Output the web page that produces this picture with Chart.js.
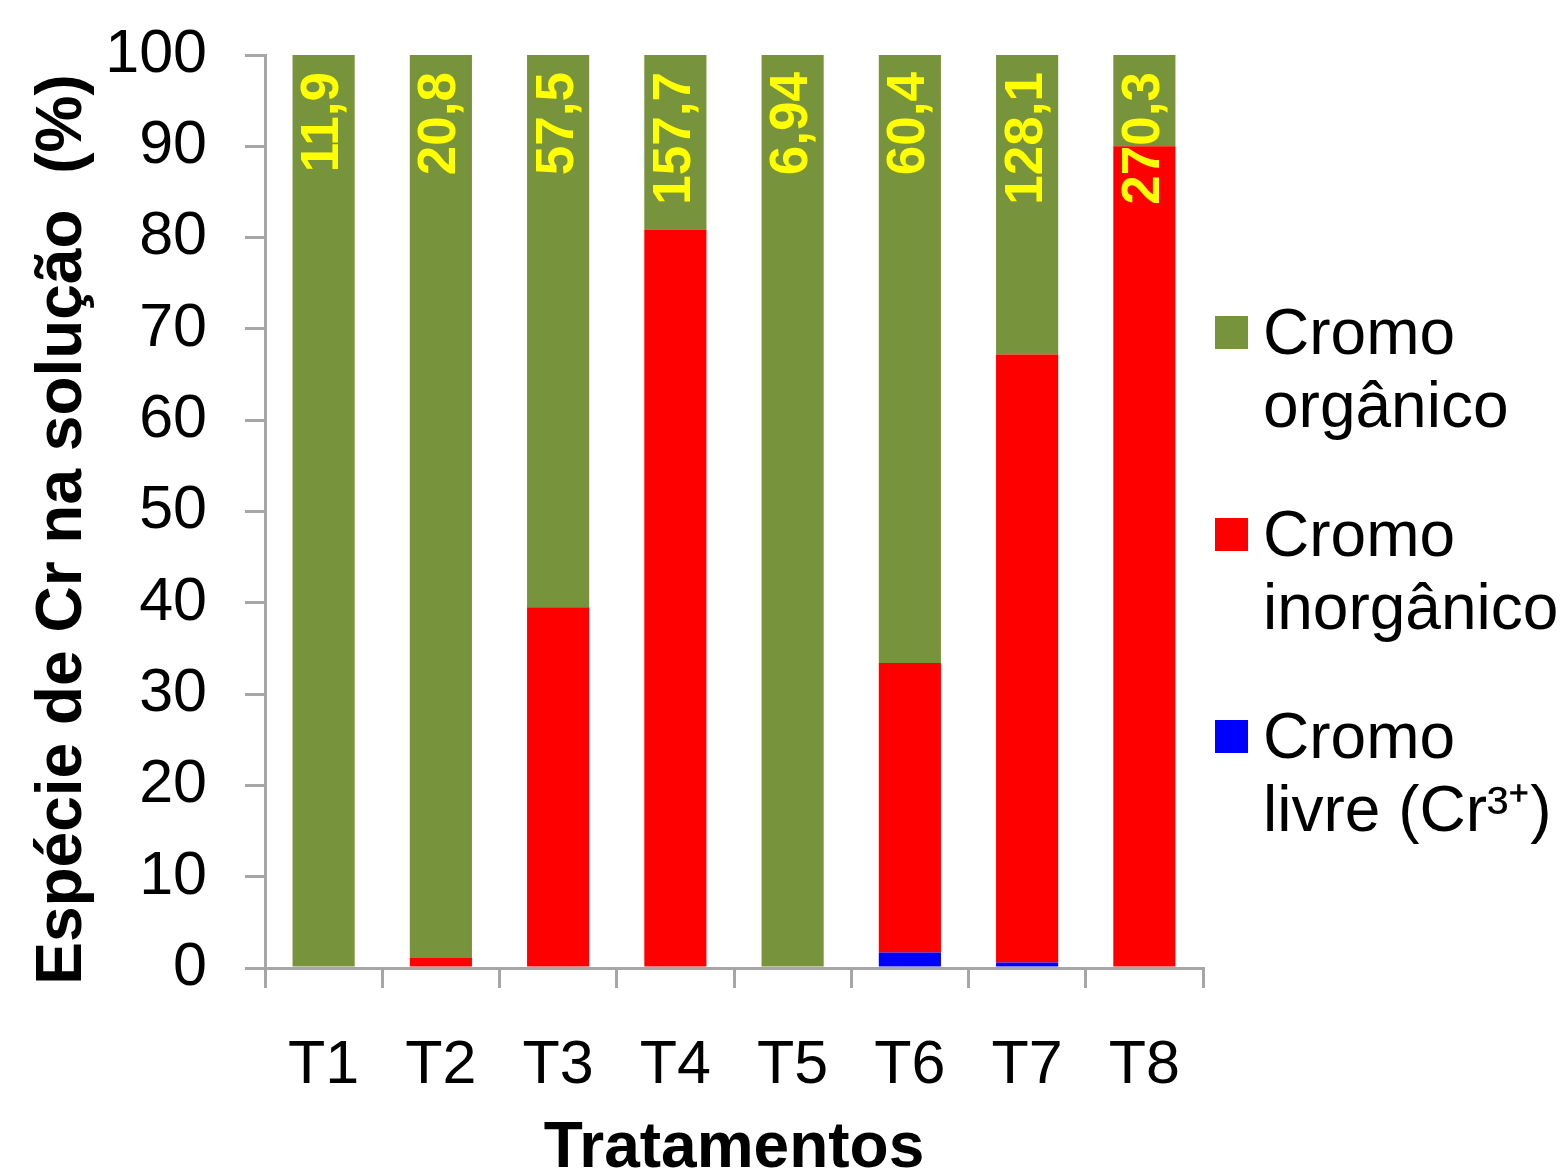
<!DOCTYPE html>
<html>
<head>
<meta charset="utf-8">
<script src="https://cdn.jsdelivr.net/npm/chart.js@4/dist/chart.umd.min.js"></script>
<style>
  html, body { margin: 0; padding: 0; background: #ffffff; }
  canvas { display: block; }
</style>
</head>
<body>
<canvas id="c" width="1563" height="1172"></canvas>
<script>
// Treatments
const categories = ['T1', 'T2', 'T3', 'T4', 'T5', 'T6', 'T7', 'T8'];
// Share of each Cr species in solution (%)
const cromoOrganico   = [100, 98.9, 60.5, 19.1, 100, 66.6, 32.8, 10.0];
const cromoInorganico = [0,   1.1,  39.5, 80.9, 0,   31.7, 66.6, 90.0];
const cromoLivre      = [0,   0,    0,    0,    0,   1.7,  0.6,  0];
// Total Cr printed on each bar
const totalLabels = ['11,9', '20,8', '57,5', '157,7', '6,94', '60,4', '128,1', '270,3'];
const seriesNames = [['Cromo', 'orgânico'], ['Cromo', 'inorgânico'], ['Cromo', 'livre (Cr³⁺)']];
const yTitle = 'Espécie de Cr na solução  (%)';
const xTitle = 'Tratamentos';
const yTicks = { min: 0, max: 100, step: 10 };

const GREEN = '#77933C', RED = '#FF0000', BLUE = '#0000FF', AXIS = '#A6A6A6';
const FONT = "'Liberation Sans', Arial, sans-serif";

// Yellow totals written upward inside the top of each bar
const totalsPlugin = {
  id: 'totals',
  afterDatasetsDraw(chart) {
    const { ctx, scales: { x, y } } = chart;
    ctx.save();
    ctx.fillStyle = '#FFFF00';
    ctx.font = 'bold 53px ' + FONT;
    ctx.textAlign = 'right';
    ctx.textBaseline = 'middle';
    totalLabels.forEach((t, i) => {
      const px = x.getPixelForValue(i);
      const py = y.getPixelForValue(yTicks.max) + 17;
      ctx.save();
      ctx.translate(px, py);
      ctx.rotate(-Math.PI / 2);
      ctx.fillText(t, 0, 0);
      ctx.restore();
    });
    ctx.restore();
  }
};

// Vertical axis title, sitting slightly below the axis midpoint
const yTitlePlugin = {
  id: 'yTitle',
  afterDraw(chart) {
    const { ctx, chartArea } = chart;
    ctx.save();
    ctx.fillStyle = '#000000';
    ctx.font = 'bold 64px ' + FONT;
    ctx.textAlign = 'center';
    ctx.textBaseline = 'middle';
    ctx.translate(63, (chartArea.top + chartArea.bottom) / 2 + 18);
    ctx.rotate(-Math.PI / 2);
    ctx.fillText(yTitle, 0, 0);
    ctx.restore();
  }
};

// Two-line legend at the right
const sideLegend = {
  id: 'sideLegend',
  afterDraw(chart) {
    const { ctx } = chart;
    const colors = [GREEN, RED, BLUE];
    ctx.save();
    ctx.font = '64px ' + FONT;
    ctx.textAlign = 'left';
    ctx.textBaseline = 'middle';
    seriesNames.forEach((lines, i) => {
      const top = 316 + i * 202;
      ctx.fillStyle = colors[i];
      ctx.fillRect(1215, top, 33, 33);
      ctx.fillStyle = '#000000';
      lines.forEach((ln, k) => ctx.fillText(ln, 1263, top + 20 + k * 73));
    });
    ctx.restore();
  }
};

new Chart(document.getElementById('c'), {
  type: 'bar',
  data: {
    labels: categories,
    datasets: [
      { label: 'Cromo livre (Cr³⁺)', data: cromoLivre, backgroundColor: BLUE },
      { label: 'Cromo inorgânico', data: cromoInorganico, backgroundColor: RED },
      { label: 'Cromo orgânico', data: cromoOrganico, backgroundColor: GREEN }
    ]
  },
  options: {
    responsive: false,
    devicePixelRatio: 1,
    animation: false,
    layout: { padding: { top: 55, right: 360, left: 0, bottom: 0 } },
    datasets: { bar: { categoryPercentage: 1, barPercentage: 0.53 } },
    plugins: { legend: { display: false }, tooltip: { enabled: false } },
    scales: {
      x: {
        stacked: true,
        afterFit(s) { s.height = 204; },
        border: { display: true, color: AXIS, width: 3 },
        grid: { offset: true, drawOnChartArea: false, drawTicks: true, tickLength: 20, color: AXIS, lineWidth: 3 },
        ticks: { color: '#000000', font: { family: FONT, size: 61 }, padding: 42 },
        title: { display: true, text: xTitle, color: '#000000',
                 font: { family: FONT, size: 64, weight: 'bold', lineHeight: 1 }, padding: { top: 0, bottom: -9 } }
      },
      y: {
        stacked: true,
        min: yTicks.min, max: yTicks.max,
        afterFit(s) { s.width = 265; s.paddingTop = 0; s.paddingBottom = 0; },
        border: { display: true, color: AXIS, width: 3 },
        grid: { drawOnChartArea: false, drawTicks: true, tickLength: 20, color: AXIS, lineWidth: 3 },
        ticks: { stepSize: yTicks.step, color: '#000000', font: { family: FONT, size: 61 }, padding: 38 },
        title: { display: false }
      }
    }
  },
  plugins: [totalsPlugin, yTitlePlugin, sideLegend]
});
</script>
</body>
</html>
